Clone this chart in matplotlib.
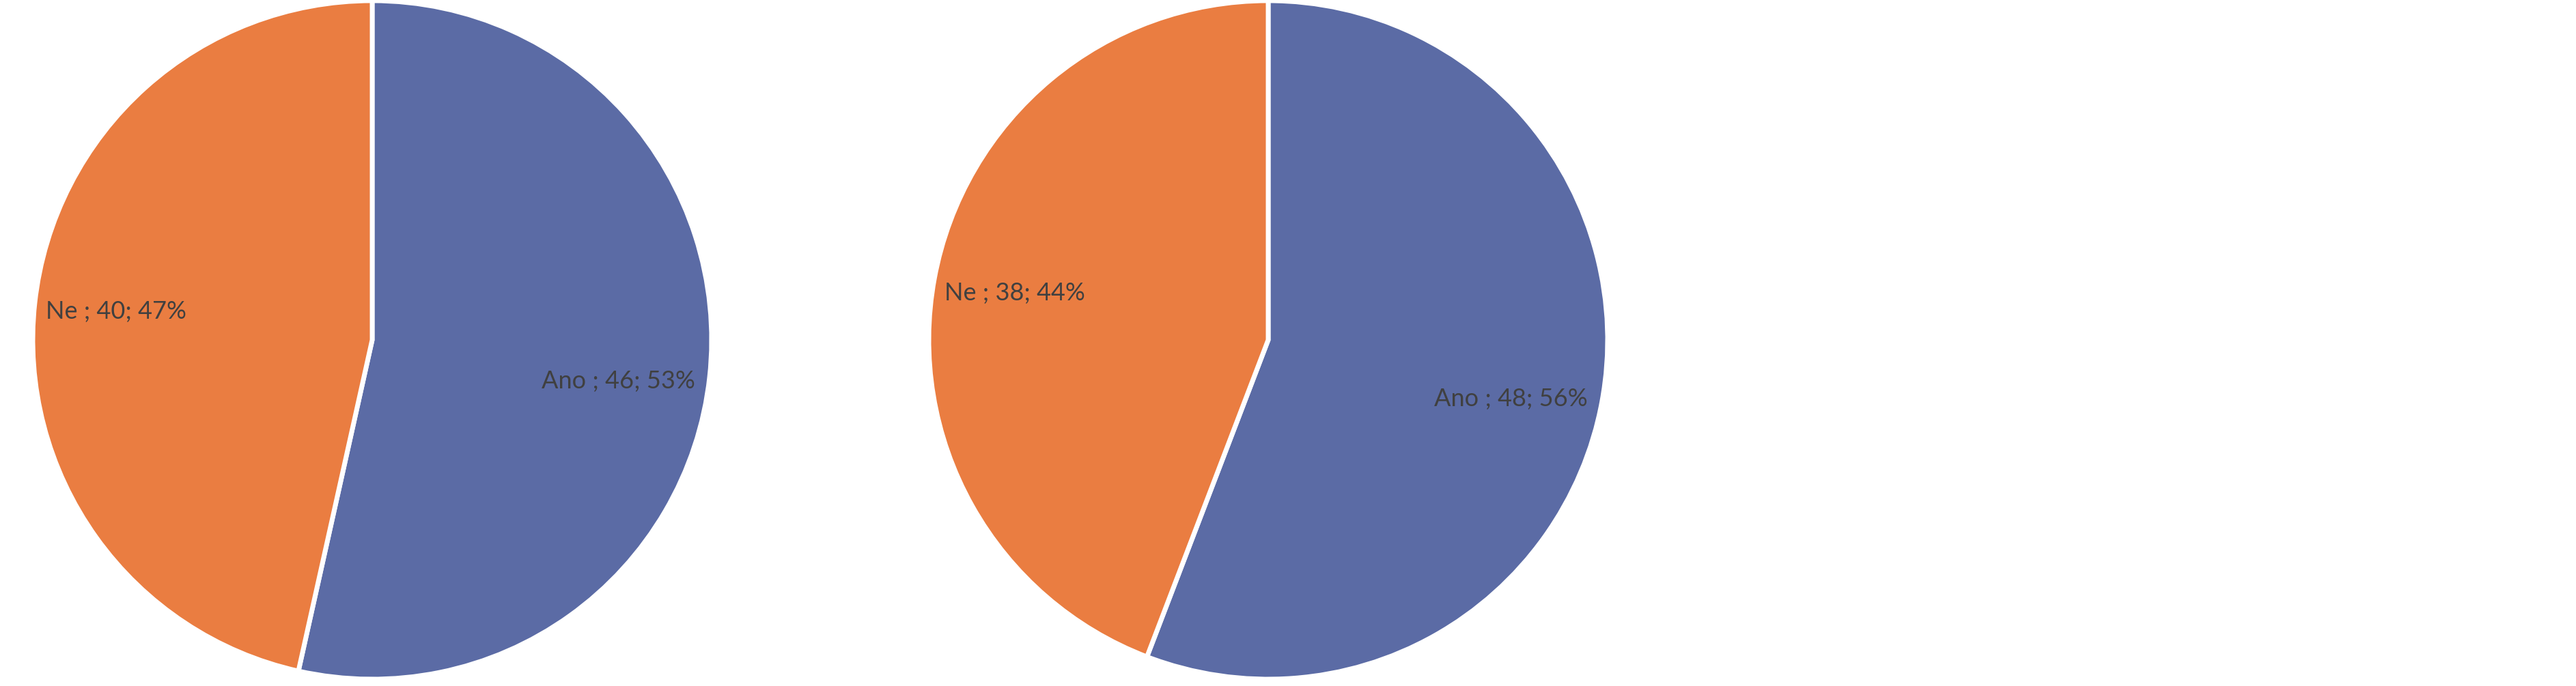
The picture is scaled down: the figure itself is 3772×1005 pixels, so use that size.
import numpy as np
import matplotlib.pyplot as plt

# data
categories = ["Ano", "Ne"]
pie1_values = [46, 40]
pie2_values = [48, 38]

colors = ["#5B6BA5", "#EA7D41"]
text_color = "#404040"

# label placement per category: (radius fraction, angle shift in degrees)
label_place = {"Ano": (0.735, -3.2), "Ne": (0.76, 0.0)}

W, H = 3772, 1005
fig = plt.figure(figsize=(W / 100, H / 100), dpi=100)

def draw_pie(cx, cy, r, values):
    # cx, cy: pie center in pixels (from top-left), r: radius in pixels
    ax = fig.add_axes([(cx - r) / W, (H - cy - r) / H, 2 * r / W, 2 * r / H])
    total = sum(values)
    wedges, _ = ax.pie(values, colors=colors, startangle=90, counterclock=False,
                       wedgeprops=dict(edgecolor="white", linewidth=5))
    for w, name, v in zip(wedges, categories, values):
        dist, shift = label_place[name]
        ang = np.deg2rad((w.theta1 + w.theta2) / 2 + shift)
        ax.text(dist * np.cos(ang), dist * np.sin(ang),
                f"{name} ; {v}; {round(v / total * 100)}%",
                ha="center", va="center", color=text_color,
                fontsize=26, family="Lato")
    ax.set_xlim(-1, 1)
    ax.set_ylim(-1, 1)
    ax.axis("off")

draw_pie(545, 498, 497, pie1_values)
draw_pie(1857, 498, 497, pie2_values)

fig.savefig("out.png", dpi=100, facecolor="white")
